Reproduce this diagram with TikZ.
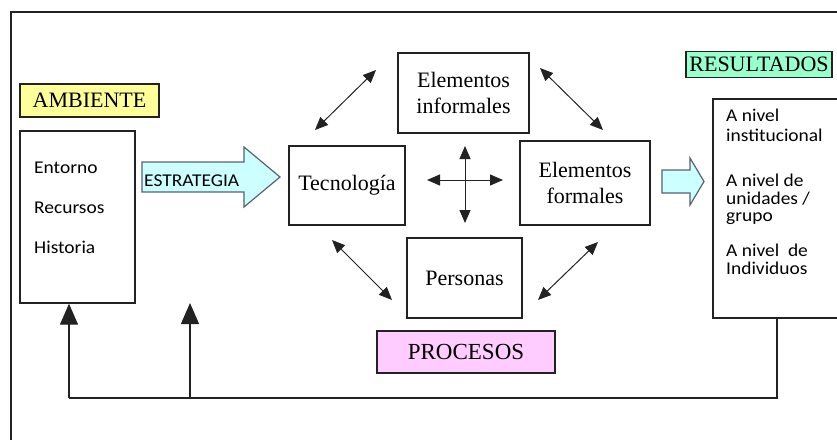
\documentclass[tikz,border=0pt]{standalone}
\usepackage{fontspec}
\setmainfont{Liberation Serif}
\newfontfamily\calib[FakeStretch=1.08]{Carlito}
\usetikzlibrary{arrows.meta}

\definecolor{ambyellow}{HTML}{FFFF99}
\definecolor{estcyan}{HTML}{CCFFFF}
\definecolor{resgreen}{HTML}{99FFCC}
\definecolor{procpink}{HTML}{FFCCFF}
\definecolor{arrgray}{HTML}{56626E}
\definecolor{linegray}{HTML}{222222}

\tikzset{
  boxnode/.style={draw=linegray, line width=1.4pt, inner sep=0pt, align=center,
    font=\fontsize{22}{26}\selectfont},
  listtext/.style={anchor=base west, inner sep=0pt, font=\calib\fontsize{18}{20}\selectfont},
  dblarrow/.style={{Triangle[length=13pt,width=11pt]}-{Triangle[length=13pt,width=11pt]},
    line width=1pt, draw=linegray},
  fbarrow/.style={-{Triangle[length=21pt,width=18pt]}, line width=1.4pt, draw=linegray},
  blockarrow/.style={draw=arrgray, fill=estcyan, line width=1.2pt, line join=miter},
}

\begin{document}
\begin{tikzpicture}[x=1pt, y=-1pt]
\useasboundingbox (0,0) rectangle (837,439);
\clip (0,0) rectangle (837,439);
\draw[line width=1.4pt, linegray] (11,12) rectangle (860,460);

% ambiente
\node[boxnode, fill=ambyellow, minimum width=139pt, minimum height=33pt] (amblbl) at (89.5,100.5) {AMBIENTE};
\node[boxnode, minimum width=115pt, minimum height=172pt] (amb) at (77.5,217) {};
\node[listtext] (ent) at (34,173) {Entorno};
\node[listtext] (rec) at (34,213) {Recursos};
\node[listtext] (his) at (34,253) {Historia};

% estrategia
\draw[blockarrow] (142,162) -- (244,162) -- (244,147) -- (280,177) -- (244,207) -- (244,192) -- (142,192) -- cycle;
\node[listtext] (estr) at (144,186) {ESTRATEGIA};

% procesos
\node[boxnode, minimum width=116pt, minimum height=79pt] (tec) at (347,185.5) {Tecnología};
\node[boxnode, minimum width=131pt, minimum height=80pt] (inf) at (463.5,93) {Elementos\\informales};
\node[boxnode, minimum width=130pt, minimum height=84pt] (form) at (585,183) {Elementos\\formales};
\node[boxnode, minimum width=115pt, minimum height=80pt] (pers) at (464.5,278) {Personas};
\node[boxnode, fill=procpink, minimum width=178pt, minimum height=42pt, font=\fontsize{23}{26}\selectfont] (proc) at (466,352) {PROCESOS};

\coordinate (tecinfA) at (315,130);
\coordinate (tecinfB) at (376,70);
\coordinate (informA) at (540,68);
\coordinate (informB) at (603,130);
\coordinate (tecperA) at (332,240);
\coordinate (tecperB) at (392,300);
\coordinate (formperA) at (598,242);
\coordinate (formperB) at (538,300);
\draw[dblarrow] (tecinfA) -- (tecinfB);
\draw[dblarrow] (informA) -- (informB);
\draw[dblarrow] (tecperA) -- (tecperB);
\draw[dblarrow] (formperA) -- (formperB);

\coordinate (crossL) at (427,180);
\coordinate (crossR) at (503,180);
\coordinate (crossT) at (465,146);
\coordinate (crossB) at (465,223);
\draw[dblarrow] (crossL) -- (crossR);
\draw[dblarrow] (crossT) -- (crossB);

% resultados
\draw[blockarrow] (662,170) -- (690,170) -- (690,158) -- (704,181.5) -- (690,205) -- (690,193) -- (662,193) -- cycle;
\node[boxnode, fill=resgreen, minimum width=146pt, minimum height=26pt] (reslbl) at (759,64.5) {RESULTADOS};
\node[boxnode, minimum width=128pt, minimum height=219pt] (res) at (777,208.5) {};
\node[listtext] (inst1) at (726,121) {A nivel};
\node[listtext] (inst2) at (726,141) {institucional};
\node[listtext] (unid1) at (726,186) {A nivel de};
\node[listtext] (unid2) at (726,204) {unidades /};
\node[listtext] (unid3) at (726,221) {grupo};
\node[listtext] (indiv1) at (726,256) {A nivel\ \ de};
\node[listtext] (indiv2) at (726,274) {Individuos};

% retroalimentacion
\coordinate (fbL) at (69,398);
\coordinate (fbM) at (190,398);
\coordinate (fbTip) at (190,303);
\draw[line width=1.4pt, linegray] (res.south) |- (fbL);
\draw[fbarrow] (fbL) -- (fbL |- amb.south);
\draw[fbarrow] (fbM) -- (fbTip);

\end{tikzpicture}
\end{document}
